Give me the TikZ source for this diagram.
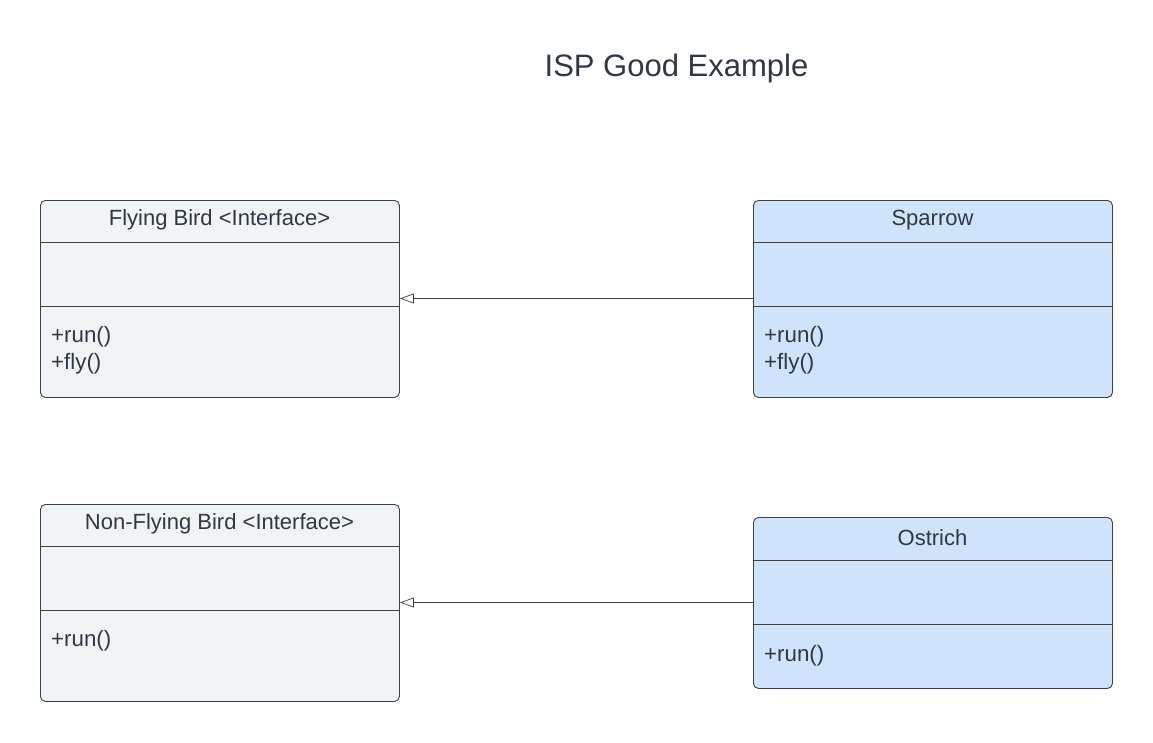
\documentclass[tikz,border=0pt]{standalone}
\usepackage{fontspec}
\setmainfont{Liberation Sans}
\usetikzlibrary{arrows.meta}
\definecolor{txt}{HTML}{2F3843}
\definecolor{edge}{HTML}{3A414A}
\definecolor{grayfill}{HTML}{F1F4F5}
\definecolor{bluefill}{HTML}{CFE3FA}
\begin{document}
\begin{tikzpicture}[x=1pt,y=-1pt,
  umlbox/.style={draw=edge, line width=0.9pt, rounded corners=5pt, minimum width=359pt, anchor=north west, inner sep=0pt},
  grayb/.style={umlbox, fill=grayfill},
  blueb/.style={umlbox, fill=bluefill},
  divider/.style={draw=edge, line width=0.9pt},
  ttl/.style={text=txt, font=\fontsize{22}{26}\selectfont, inner sep=0pt, anchor=center},
  mem/.style={text=txt, font=\fontsize{22.3}{26}\selectfont, inner sep=0pt, anchor=west, text height=15pt, text depth=5pt},
  inherit/.style={draw=edge, line width=0.7pt, -{Triangle[open, length=14pt, width=10pt]}}
]
\useasboundingbox (0,0) rectangle (1153,742);
\fill[white] (0,0) rectangle (1153,742);

\node[text=txt, font=\fontsize{31}{36}\selectfont, inner sep=0pt, anchor=center] (title) at (676.5,68) {ISP Good Example};

% Flying Bird
\node[grayb, minimum height=197pt] (fb) at (40,200) {};
\draw[divider] (fb.west |- 0,242) -- (fb.east |- 0,242);
\draw[divider] (fb.west |- 0,306) -- (fb.east |- 0,306);
\node[ttl] (fbt) at (219.5,220) {Flying Bird <Interface>};
\node[mem] (fbm1) at (51,337) {+run()};
\node[mem] (fbm2) at (51,364) {+fly()};

% Sparrow
\node[blueb, minimum height=197pt] (sp) at (753,200) {};
\draw[divider] (sp.west |- 0,242) -- (sp.east |- 0,242);
\draw[divider] (sp.west |- 0,306) -- (sp.east |- 0,306);
\node[ttl] (spt) at (932.5,220) {Sparrow};
\node[mem] (spm1) at (764,337) {+run()};
\node[mem] (spm2) at (764,364) {+fly()};

% Non-Flying Bird
\node[grayb, minimum height=197pt] (nf) at (40,504) {};
\draw[divider] (nf.west |- 0,546) -- (nf.east |- 0,546);
\draw[divider] (nf.west |- 0,610) -- (nf.east |- 0,610);
\node[ttl] (nft) at (219.5,524) {Non-Flying Bird <Interface>};
\node[mem] (nfm1) at (51,641) {+run()};

% Ostrich
\node[blueb, minimum height=171pt] (os) at (753,517) {};
\draw[divider] (os.west |- 0,560) -- (os.east |- 0,560);
\draw[divider] (os.west |- 0,624) -- (os.east |- 0,624);
\node[ttl] (ost) at (932.5,538) {Ostrich};
\node[mem] (osm1) at (764,656) {+run()};

% Realization arrows
\draw[inherit] (sp.west |- 0,298.5) -- (fb.east |- 0,298.5);
\draw[inherit] (os.west |- 0,602.5) -- (nf.east |- 0,602.5);
\end{tikzpicture}
\end{document}
